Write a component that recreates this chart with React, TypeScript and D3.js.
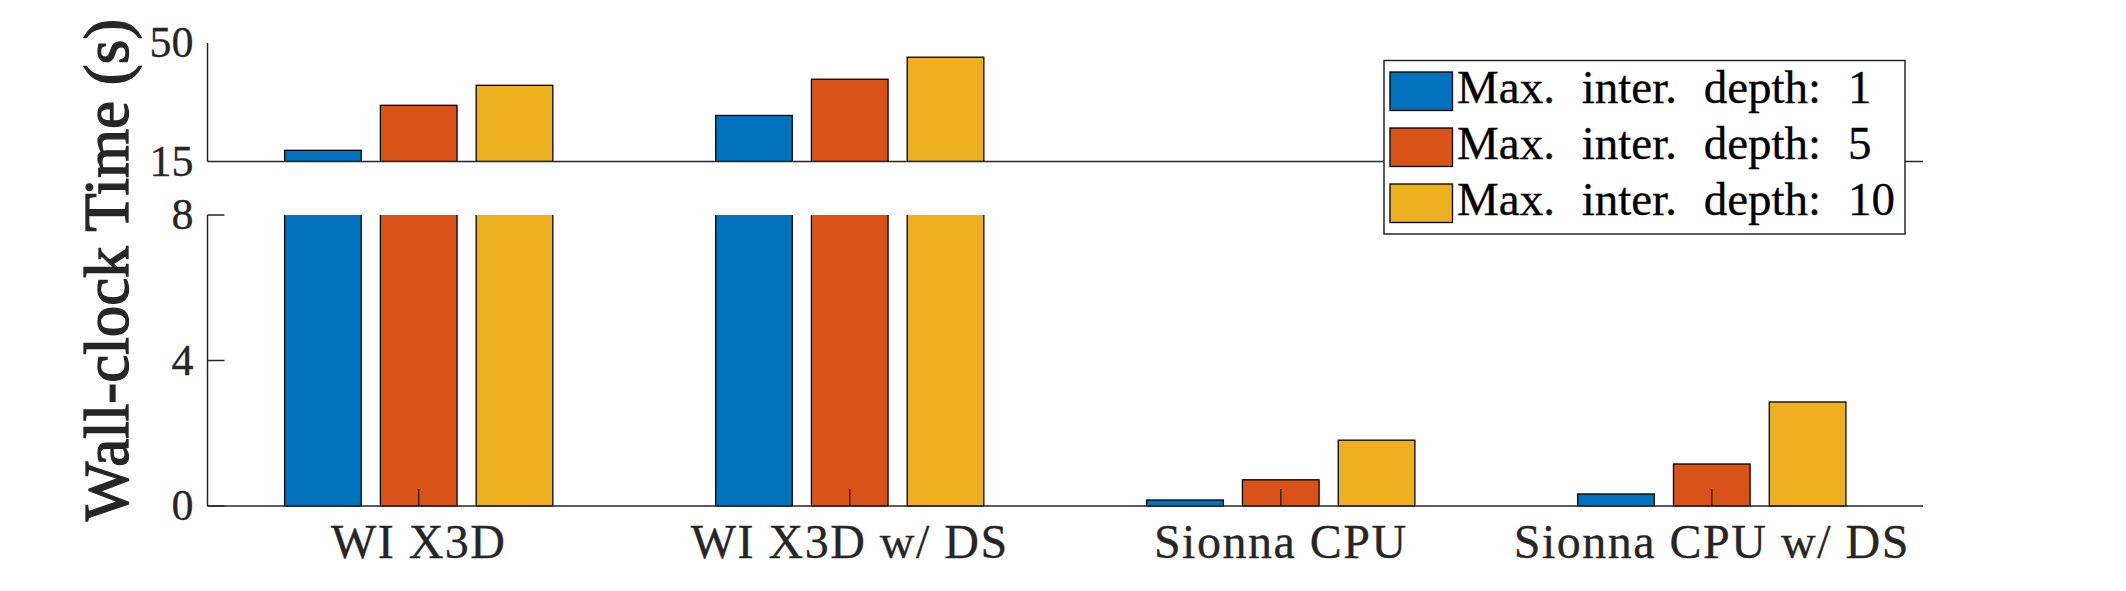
import React from "react";
import * as d3 from "d3";

const categories = ["WI X3D", "WI X3D w/ DS", "Sionna CPU", "Sionna CPU w/ DS"];
const depth1 = [18.3, 28.6, 0.165, 0.33];
const depth5 = [31.6, 39.3, 0.72, 1.155];
const depth10 = [37.5, 45.8, 1.81, 2.86];
const seriesNames = ["Max. inter. depth: 1", "Max. inter. depth: 5", "Max. inter. depth: 10"];
const colors = ["#0072BD", "#D95319", "#EDB120"];
const topTicks = [15, 50];
const bottomTicks = [0, 4, 8];

const W = 2126;
const H = 591;
const FONT = "'Liberation Serif', 'Times New Roman', serif";
const AX = "#262626";

export default function App() {
  const series = [depth1, depth5, depth10];
  const x = d3.scaleLinear().domain([0.51, 4.49]).range([207.5, 1923]);
  const yTop = d3.scaleLinear().domain([15, 50]).range([161.5, 43]);
  const yBot = d3.scaleLinear().domain([0, 8]).range([506, 215]);
  const groupWidth = 3 / 4.5;
  const barW = (0.8 * groupWidth) / 3;
  const offsets = [-1, 0, 1].map((k) => (k * groupWidth) / 3);
  const px = (v: number) => x(v) - x(0);
  const [xl, xr] = x.range();
  const tickLen = 17;

  return (
    <svg
      width={W}
      height={H}
      style={{ position: "absolute", left: 0, top: 0, background: "#fff" }}
      fontFamily={FONT}
    >
      <defs>
        <clipPath id="botClip">
          <rect x={xl} y={yBot(8)} width={xr - xl} height={yBot(0) - yBot(8) + 2} />
        </clipPath>
        <clipPath id="topClip">
          <rect x={xl} y={yTop(50) - 2} width={xr - xl} height={yTop(15) - yTop(50) + 2} />
        </clipPath>
      </defs>
      <rect x={0} y={0} width={W} height={H} fill="#fff" />
      {/* bars */}
      <g clipPath="url(#botClip)">
        {series.map((vals, si) =>
          vals.map((v, ci) => {
            const cx = x(ci + 1 + offsets[si]);
            const bw = px(barW);
            const top = yBot(v);
            return (
              <rect
                key={`b${si}-${ci}`}
                x={cx - bw / 2}
                y={top}
                width={bw}
                height={yBot(0) - top}
                fill={colors[si]}
                stroke="#000"
                strokeWidth={1.3}
              />
            );
          })
        )}
      </g>
      <g clipPath="url(#topClip)">
        {series.map((vals, si) =>
          vals.map((v, ci) => {
            if (v <= 15) return null;
            const cx = x(ci + 1 + offsets[si]);
            const bw = px(barW);
            return (
              <rect
                key={`t${si}-${ci}`}
                x={cx - bw / 2}
                y={yTop(v)}
                width={bw}
                height={yTop(15) - yTop(v)}
                fill={colors[si]}
                stroke="#000"
                strokeWidth={1.3}
              />
            );
          })
        )}
      </g>
      {/* top axis */}
      <line x1={xl} x2={xl} y1={yTop(50)} y2={yTop(15)} stroke={AX} strokeWidth={1.5} />
      <line x1={xl} x2={xr} y1={yTop(15)} y2={yTop(15)} stroke={AX} strokeWidth={1.5} />
      {topTicks.map((t) => (
        <text key={`tt${t}`} x={xl - 14} y={yTop(t) + 14} fontSize={44} textAnchor="end" fill={AX} stroke={AX} strokeWidth={0.3}>
          {t}
        </text>
      ))}
      {/* bottom axis */}
      <line x1={xl} x2={xl} y1={yBot(8)} y2={yBot(0)} stroke={AX} strokeWidth={1.5} />
      <line x1={xl} x2={xr} y1={yBot(0)} y2={yBot(0)} stroke={AX} strokeWidth={1.5} />
      {bottomTicks.map((t) => (
        <g key={`bt${t}`}>
          <line x1={xl} x2={xl + tickLen} y1={yBot(t)} y2={yBot(t)} stroke={AX} strokeWidth={1.5} />
          <text x={xl - 14} y={yBot(t) + 14} fontSize={44} textAnchor="end" fill={AX} stroke={AX} strokeWidth={0.3}>
            {t}
          </text>
        </g>
      ))}
      {categories.map((c, i) => (
        <g key={`xc${i}`}>
          <line x1={x(i + 1)} x2={x(i + 1)} y1={yBot(0)} y2={yBot(0) - tickLen} stroke={AX} strokeWidth={1.5} />
          <text
            x={x(i + 1)}
            y={558}
            fontSize={48}
            letterSpacing={1.5}
            textAnchor="middle"
            fill={AX}
            stroke={AX}
            strokeWidth={0.3}
          >
            {c}
          </text>
        </g>
      ))}
      {/* y label */}
      <text
        transform={`translate(128, 270) rotate(-90)`}
        fontSize={63}
        textAnchor="middle"
        fill={AX}
        stroke={AX}
        strokeWidth={1.3}
      >
        Wall-clock Time (s)
      </text>
      {/* legend */}
      <g>
        <rect x={1384} y={60.5} width={521} height={173.5} fill="#fff" stroke={AX} strokeWidth={1.5} />
        {seriesNames.map((n, i) => (
          <g key={`lg${i}`}>
            <rect x={1390} y={72 + i * 56} width={62.5} height={38.5} fill={colors[i]} stroke="#000" strokeWidth={1.3} />
            <text x={1457} y={103.3 + i * 56} fontSize={47} wordSpacing={15} fill="#000" stroke="#000" strokeWidth={0.3}>
              {n}
            </text>
          </g>
        ))}
      </g>
    </svg>
  );
}
